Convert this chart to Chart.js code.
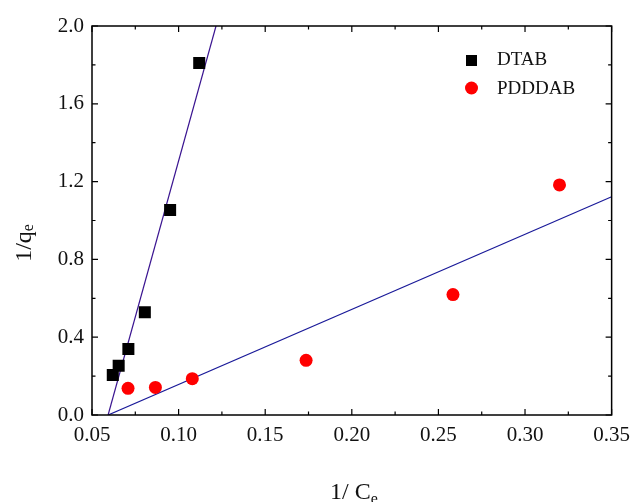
<!DOCTYPE html>
<html>
<head>
<meta charset="utf-8">
<script src="https://cdn.jsdelivr.net/npm/chart.js@4/dist/chart.umd.min.js"></script>
<style>
  html, body { margin: 0; padding: 0; background: #fff; }
  #wrap { width: 638px; height: 502px; }
</style>
</head>
<body>
<div id="wrap"><canvas id="chart" width="638" height="502"></canvas></div>
<script>
// measured points
var dtabX = [0.062, 0.0654, 0.071, 0.0805, 0.0951, 0.1119];
var dtabY = [0.206, 0.253, 0.339, 0.528, 1.054, 1.81];
var pdX = [0.0708, 0.0866, 0.1079, 0.1736, 0.2584, 0.3199];
var pdY = [0.137, 0.142, 0.187, 0.281, 0.619, 1.183];
// linear fits (end points)
var dtabFitX = [0.0593, 0.1216];
var dtabFitY = [0, 2.0];
var pdFitX = [0.0593, 0.35];
var pdFitY = [0, 1.122];
var seriesNames = ['DTAB', 'PDDDAB'];

var FONT = '"Liberation Serif", "DejaVu Serif", serif';

function toPts(xs, ys) {
    return xs.map(function(x, i) { return { x: x, y: ys[i] }; });
}

// frame, inward ticks, axis titles and the legend
var decorPlugin = {
    id: 'decor',
    afterDraw: function(chart) {
        var ctx = chart.ctx, a = chart.chartArea;
        var xs = chart.scales.x, ys = chart.scales.y;
        ctx.save();
        ctx.strokeStyle = '#000';
        ctx.lineWidth = 1.5;
        ctx.strokeRect(a.left, a.top, a.right - a.left, a.bottom - a.top);
        ctx.lineWidth = 1.2;
        ctx.beginPath();
        for (var i = 0; i <= 12; i++) {
            var v = 0.05 + i * 0.025;
            var px = xs.getPixelForValue(v);
            var len = (i % 2 === 0) ? 6 : 3.5;
            ctx.moveTo(px, a.bottom); ctx.lineTo(px, a.bottom - len);
            ctx.moveTo(px, a.top); ctx.lineTo(px, a.top + len);
        }
        for (var j = 0; j <= 10; j++) {
            var w = j * 0.2;
            var py = ys.getPixelForValue(w);
            var l2 = (j % 2 === 0) ? 6 : 3.5;
            ctx.moveTo(a.left, py); ctx.lineTo(a.left + l2, py);
            ctx.moveTo(a.right, py); ctx.lineTo(a.right - l2, py);
        }
        ctx.stroke();

        ctx.fillStyle = '#111';
        ctx.textBaseline = 'alphabetic';
        // x title: 1/ C_e
        ctx.font = '24px ' + FONT;
        ctx.textAlign = 'left';
        var xt = '1/ C';
        var xw = ctx.measureText(xt).width;
        var x0 = 330;
        ctx.fillText(xt, x0, 499);
        ctx.font = '16px ' + FONT;
        ctx.fillText('e', x0 + xw, 504);

        // y title: 1/q_e rotated
        ctx.save();
        ctx.translate(31, 243);
        ctx.rotate(-Math.PI / 2);
        ctx.font = '24px ' + FONT;
        var yt = '1/q';
        var yw = ctx.measureText(yt).width;
        var tot = yw + 7;
        ctx.fillText(yt, -tot / 2, 0);
        ctx.font = '16px ' + FONT;
        ctx.fillText('e', -tot / 2 + yw, 2);
        ctx.restore();

        // legend
        ctx.font = '19px ' + FONT;
        ctx.textAlign = 'left';
        ctx.textBaseline = 'middle';
        ctx.fillStyle = '#000';
        ctx.fillRect(466, 55, 11, 11);
        ctx.fillStyle = '#111';
        ctx.fillText(seriesNames[0], 497, 60);
        ctx.fillStyle = '#ff0000';
        ctx.beginPath();
        ctx.arc(471.5, 88, 6.5, 0, Math.PI * 2);
        ctx.fill();
        ctx.fillStyle = '#111';
        ctx.fillText(seriesNames[1], 497, 89);
        ctx.restore();
    }
};

var chart = new Chart(document.getElementById('chart'), {
    type: 'scatter',
    data: {
        datasets: [
            {
                label: 'DTAB fit', data: toPts(dtabFitX, dtabFitY), showLine: true,
                borderColor: '#3a1490', borderWidth: 1.2, pointRadius: 0, order: 3
            },
            {
                label: 'PDDDAB fit', data: toPts(pdFitX, pdFitY), showLine: true,
                borderColor: '#1a1a99', borderWidth: 1.2, pointRadius: 0, order: 3
            },
            {
                label: seriesNames[0], data: toPts(dtabX, dtabY), pointStyle: 'rect',
                pointRadius: 8.5, backgroundColor: '#000', borderWidth: 0, order: 1
            },
            {
                label: seriesNames[1], data: toPts(pdX, pdY), pointStyle: 'circle',
                pointRadius: 6.5, backgroundColor: '#ff0000', borderWidth: 0, order: 2
            }
        ]
    },
    options: {
        responsive: false,
        animation: false,
        events: [],
        layout: { padding: { left: 0, right: 21, top: 26, bottom: 0 } },
        plugins: { legend: { display: false }, tooltip: { enabled: false } },
        scales: {
            x: {
                type: 'linear', min: 0.05, max: 0.35,
                grid: { display: false, drawTicks: false },
                border: { display: false },
                ticks: {
                    stepSize: 0.05, padding: 8, color: '#111',
                    font: { family: FONT, size: 21 },
                    callback: function(v) { return v.toFixed(2); }
                },
                afterFit: function(s) { s.height = 87; }
            },
            y: {
                type: 'linear', min: 0, max: 2.0,
                grid: { display: false, drawTicks: false },
                border: { display: false },
                ticks: {
                    stepSize: 0.4, padding: 8, color: '#111',
                    font: { family: FONT, size: 21 },
                    callback: function(v) { return v.toFixed(1); }
                },
                afterFit: function(s) { s.width = 92; }
            }
        }
    },
    plugins: [decorPlugin]
});
</script>
</body>
</html>
